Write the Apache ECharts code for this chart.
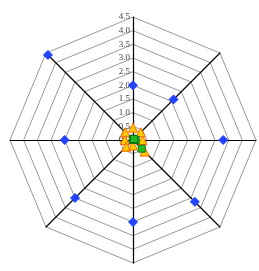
<!DOCTYPE html>
<html>
<head>
<meta charset="utf-8">
<style>
  html, body { margin: 0; padding: 0; background: #fff; }
  #radarChart { width: 259px; height: 271px; }
</style>
<script src="https://cdn.jsdelivr.net/npm/echarts@6/dist/echarts.min.js"></script>
</head>
<body>
<div id="radarChart"></div>
<script>
  // axes go counter-clockwise from the top
  var axisNames = ['', '', '', '', '', '', '', ''];
  var tickLabels = ['0.0', '0.5', '1.0', '1.5', '2.0', '2.5', '3.0', '3.5', '4.0', '4.5'];
  var blueValues = [2.0, 4.4, 2.5, 3.0, 3.0, 3.2, 3.3, 2.1];
  var orangeValues = [0.45, 0.4, 0.3, 0.35, 0.2, 0.6, 0.35, 0.4];
  var greenValues = [0.05, 0, 0, 0, 0, 0.45, 0.1, 0.05];

  var chart = echarts.init(document.getElementById('radarChart'));

  var indicators = axisNames.map(function (n, i) {
    var ind = { name: n, min: 0, max: 4.5 };
    if (i === 0) {
      ind.axisLabel = {
        show: true,
        color: '#444',
        fontFamily: 'Liberation Serif',
        fontSize: 9,
        margin: 3,
        formatter: function (v) {
          var idx = Math.round(v / 0.5);
          return tickLabels[idx] || '';
        }
      };
    }
    return ind;
  });

  function dotSeries(name, values, symbol, size, fill, border) {
    return {
      name: name,
      type: 'radar',
      symbol: symbol,
      symbolSize: size,
      lineStyle: { opacity: 0, width: 0 },
      itemStyle: { color: fill, borderColor: border, borderWidth: 1 },
      data: [{ value: values }],
      z: 5
    };
  }

  var option = {
    backgroundColor: '#fff',
    animation: false,
    radar: {
      center: [133, 140],
      radius: 123,
      shape: 'polygon',
      splitNumber: 9,
      indicator: indicators,
      axisName: { show: false },
      axisLabel: { show: false },
      axisLine: { lineStyle: { color: '#000', width: 1.2 } },
      splitLine: { lineStyle: { color: '#999', width: 1 } },
      splitArea: { show: false }
    },
    series: [
      dotSeries('blue', blueValues, 'diamond', 9, '#2244ff', '#2244ff'),
      dotSeries('orange', orangeValues, 'triangle', 9, '#ffcc00', '#ff6600'),
      dotSeries('green', greenValues, 'rect', 7, '#22bb22', '#117711')
    ]
  };

  chart.setOption(option);
</script>
</body>
</html>
